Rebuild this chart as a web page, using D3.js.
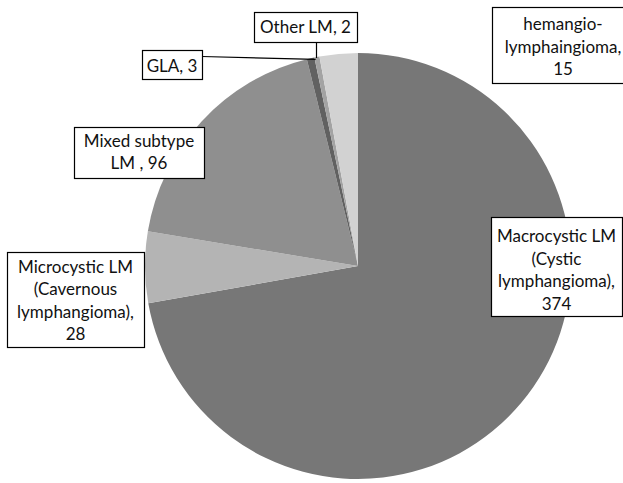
<!DOCTYPE html>
<html>
<head>
<meta charset="utf-8">
<script src="https://cdn.jsdelivr.net/npm/d3@7"></script>
<style>
  body { margin: 0; background: #fff; }
  svg text { font-family: Lato, "Open Sans", sans-serif; font-size: 17px; fill: #111; }
</style>
</head>
<body>
<div id="chart"></div>
<script>
// slice data, clockwise from 12 o'clock
var categories = ["Macrocystic LM", "Microcystic LM", "Mixed subtype LM", "GLA", "Other LM", "hemangio-lymphaingioma"];
var values = [374, 28, 96, 3, 2, 15];
var colors = ["#777777", "#b4b4b4", "#8f8f8f", "#616161", "#a3a3a3", "#d2d2d2"];
var labelLines = [
  ["Macrocystic LM", "(Cystic", "lymphangioma),", "374"],
  ["Microcystic LM", "(Cavernous", "lymphangioma),", "28"],
  ["Mixed subtype", "LM , 96"],
  ["GLA, 3"],
  ["Other LM, 2"],
  ["hemangio-", "lymphaingioma,", "15"]
];

var width = 623, height = 483;
var cx = 358, cy = 266, radius = 213;

// label boxes: corners, first baseline, line step, leader side
var boxes = [
  {x0: 491, y0: 217, x1: 622, y1: 316, base: 242, step: 22.7, leader: false},
  {x0: 7, y0: 252, x1: 144, y1: 347, base: 273, step: 22.4, leader: false},
  {x0: 74, y0: 127, x1: 204, y1: 178, base: 147, step: 21.5, leader: false},
  {x0: 142, y0: 50, x1: 202, y1: 79, base: 72, step: 0, leader: "right"},
  {x0: 254, y0: 12, x1: 357, y1: 42, base: 33, step: 0, leader: "bottom"},
  {x0: 492, y0: 7, x1: 634, y1: 83, base: 30, step: 22.5, leader: false}
];

var svg = d3.select("#chart").append("svg")
  .attr("width", width)
  .attr("height", height);

var pie = d3.pie().sort(null).value(function(d) { return d; });
var arcs = pie(values);

var arc = d3.arc().innerRadius(0).outerRadius(radius);

var g = svg.append("g")
  .attr("transform", "translate(" + cx + "," + cy + ")");

g.selectAll("path")
  .data(arcs)
  .enter().append("path")
    .attr("d", arc)
    .attr("fill", function(d, i) { return colors[i]; });

// point on the rim at the middle of a slice
function rimPoint(d) {
  var a = (d.startAngle + d.endAngle) / 2;
  return [cx + radius * Math.sin(a), cy - radius * Math.cos(a)];
}

// leader lines
var leaders = svg.append("g").attr("stroke", "#000").attr("stroke-width", 1.2).attr("fill", "none");
boxes.forEach(function(b, i) {
  if (!b.leader) return;
  var p = rimPoint(arcs[i]);
  var start = b.leader === "right" ? [b.x1, (b.y0 + b.y1) / 2 - 8] : [(b.x0 + b.x1) / 2 + 11, b.y1];
  var end = b.leader === "right" ? [p[0] + 5, p[1] + 1] : [start[0], p[1] + 1];
  leaders.append("line")
    .attr("x1", start[0]).attr("y1", start[1])
    .attr("x2", end[0]).attr("y2", end[1]);
});

// label boxes
var label = svg.selectAll("g.label")
  .data(boxes)
  .enter().append("g")
    .classed("label", true);

label.append("rect")
  .attr("x", function(d) { return d.x0 + 0.5; })
  .attr("y", function(d) { return d.y0 + 0.5; })
  .attr("width", function(d) { return d.x1 - d.x0; })
  .attr("height", function(d) { return d.y1 - d.y0; })
  .attr("fill", "#fff")
  .attr("stroke", "#000")
  .attr("stroke-width", 1.2);

label.each(function(b, i) {
  var t = d3.select(this).append("text")
    .attr("text-anchor", "middle");
  labelLines[i].forEach(function(line, k) {
    t.append("tspan")
      .attr("x", (b.x0 + b.x1) / 2)
      .attr("y", b.base + k * b.step)
      .text(line);
  });
});
</script>
</body>
</html>
